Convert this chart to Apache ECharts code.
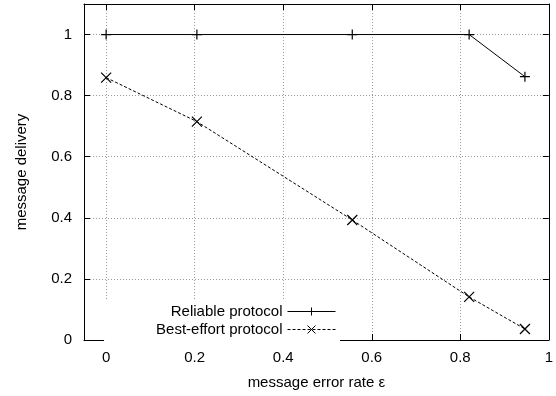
<!DOCTYPE html>
<html>
<head>
<meta charset="utf-8">
<script src="https://cdn.jsdelivr.net/npm/echarts@6/dist/echarts.min.js"></script>
<style>html,body{margin:0;padding:0;background:#fff}#c{width:556px;height:396px}</style>
</head>
<body>
<div id="c"></div>
<script>
const errorRates = [0, 0.205, 0.556, 0.82, 0.946];
const reliable = [1, 1, 1, 1, 0.862];
const bestEffort = [0.859, 0.715, 0.393, 0.141, 0.036];
const xTicks = [0, 0.2, 0.4, 0.6, 0.8, 1];
const yTicks = [0, 0.2, 0.4, 0.6, 0.8, 1];
const seriesNames = ['Reliable protocol', 'Best-effort protocol'];
const xTitle = 'message error rate ε';
const yTitle = 'message delivery';

const FONT = 'Liberation Sans';
const FS = 15;
const plus = 'path://M0,5L10,5M5,0L5,10';
const cross = 'path://M0,0L10,10M10,0L0,10';
const grid = {left: 84, right: 6, top: 4, bottom: 56};

function xAxisDef(pos, show) {
  return {
    type: 'value', position: pos, min: -0.05, max: 1,
    axisLine: {show: true, onZero: false, lineStyle: {color: '#000', width: 1}},
    axisTick: {show: true, inside: true, length: 6, customValues: xTicks, lineStyle: {color: '#000'}},
    axisLabel: {show: show, customValues: xTicks, margin: 10, color: '#000', fontFamily: FONT, fontSize: FS,
      formatter: v => String(+v.toFixed(2))},
    splitLine: {show: show, lineStyle: {color: '#999', type: [1, 2], width: 1}},
    name: show ? xTitle : '', nameLocation: 'middle', nameGap: 35,
    nameTextStyle: {color: '#000', fontFamily: FONT, fontSize: FS}
  };
}
function yAxisDef(pos, show) {
  return {
    type: 'value', position: pos, min: 0, max: 1.1,
    axisLine: {show: true, onZero: false, lineStyle: {color: '#000', width: 1}},
    axisTick: {show: true, inside: true, length: 6, customValues: yTicks, lineStyle: {color: '#000'}},
    axisLabel: {show: show, customValues: yTicks, margin: 12, color: '#000', fontFamily: FONT, fontSize: FS,
      formatter: v => String(+v.toFixed(2))},
    splitLine: {show: show, lineStyle: {color: '#999', type: [1, 2], width: 1}},
    name: show ? yTitle : '', nameLocation: 'middle', nameGap: 55,
    nameTextStyle: {color: '#000', fontFamily: FONT, fontSize: FS}
  };
}

function legendDef(name, top, padLeft) {
  return {
    data: [name], orient: 'horizontal', align: 'right', right: 216, top: top,
    padding: [4, 4, 4, padLeft], itemWidth: 48, itemHeight: 10, itemGap: 0, backgroundColor: '#fff',
    lineStyle: {width: 1}, itemStyle: {borderWidth: 1},
    textStyle: {color: '#000', fontFamily: FONT, fontSize: FS}
  };
}

const chart = echarts.init(document.getElementById('c'), null, {renderer: 'canvas'});
chart.setOption({
  animation: false,
  backgroundColor: '#fff',
  grid: grid,
  xAxis: [xAxisDef('bottom', true), xAxisDef('top', false)],
  yAxis: [yAxisDef('left', true), yAxisDef('right', false)],
  legend: [legendDef(seriesNames[0], 300, 72), legendDef(seriesNames[1], 318, 52)],
  series: [
    {name: seriesNames[0], type: 'line', data: errorRates.map((x, i) => [x, reliable[i]]),
     symbol: plus, symbolSize: 10, showAllSymbol: true,
     lineStyle: {color: '#000', width: 1, type: 'solid'},
     itemStyle: {color: '#000', borderColor: '#000', borderWidth: 1.2}},
    {name: seriesNames[1], type: 'line', data: errorRates.map((x, i) => [x, bestEffort[i]]),
     symbol: cross, symbolSize: 10, showAllSymbol: true,
     lineStyle: {color: '#000', width: 1, type: [3, 2]},
     itemStyle: {color: '#000', borderColor: '#000', borderWidth: 1.2}}
  ]
});
</script>
</body>
</html>
